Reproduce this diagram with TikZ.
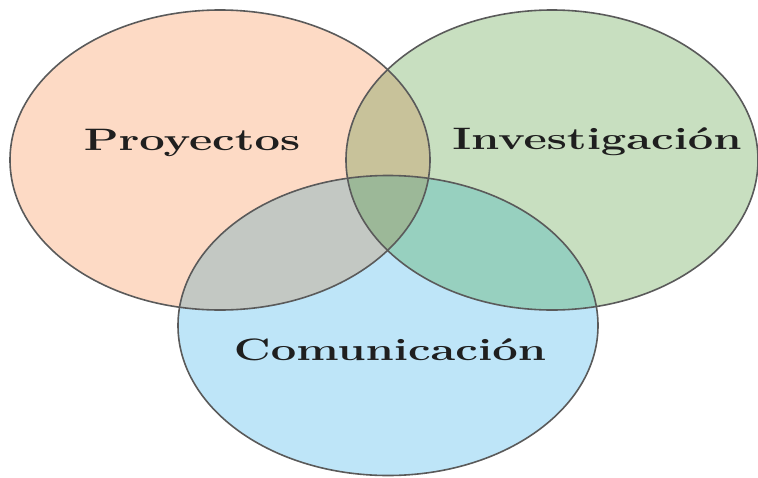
\documentclass[tikz,border=0pt]{standalone}
\usepackage{graphicx}
\definecolor{cpeach}{HTML}{FDDAC5}
\definecolor{cgreen}{HTML}{C8DFC0}
\definecolor{cblue}{HTML}{BEE5F8}
\definecolor{ctan}{HTML}{C8C29A}
\definecolor{cgrey}{HTML}{C3C8C3}
\definecolor{cteal}{HTML}{97D0BF}
\definecolor{ccenter}{HTML}{9CB898}
\definecolor{cedge}{HTML}{5A5A5A}
\tikzset{
  edge/.style={draw=cedge, line width=1.6pt},
  lbl/.style={anchor=base, inner sep=0pt, font=\fontsize{31}{31}\selectfont\bfseries, text=black!88}
}
\newcommand{\elL}{(220,160) ellipse [x radius=210, y radius=150]}
\newcommand{\elR}{(552,160) ellipse [x radius=206, y radius=150]}
\newcommand{\elB}{(388,325.5) ellipse [x radius=210, y radius=150]}
\newcommand{\wide}[1]{\scalebox{1.46}[1]{#1}}
\begin{document}
\begin{tikzpicture}[x=1pt,y=-1pt]
\useasboundingbox (0,0) rectangle (758,477);
\fill[cpeach] \elL;
\fill[cgreen] \elR;
\fill[cblue] \elB;
\begin{scope}\clip \elL; \fill[ctan] \elR; \end{scope}
\begin{scope}\clip \elL; \fill[cgrey] \elB; \end{scope}
\begin{scope}\clip \elR; \fill[cteal] \elB; \end{scope}
\begin{scope}\clip \elL; \clip \elR; \fill[ccenter] \elB; \end{scope}
\draw[edge] \elL;
\draw[edge] \elR;
\draw[edge] \elB;
\node[lbl] (p) at (192,150) {\wide{Proyectos}};
\node[lbl] (i) at (597,149) {\wide{Investigación}};
\node[lbl] (c) at (390,360) {\wide{Comunicación}};
\end{tikzpicture}
\end{document}
